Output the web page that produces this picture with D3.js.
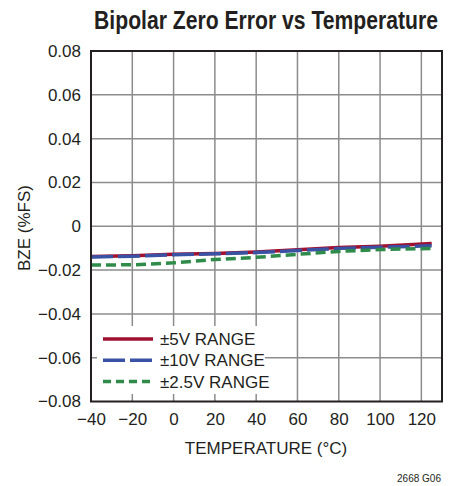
<!DOCTYPE html>
<html><head><meta charset="utf-8">
<script src="https://cdn.jsdelivr.net/npm/d3@7"></script>
<style>
body{margin:0;background:#fff;}
svg text{font-family:"Liberation Sans",Arial,sans-serif;fill:#231f20;}
</style></head>
<body>
<svg id="chart" width="456" height="486"></svg>
<script>
const temps = [-40, -20, 0, 20, 40, 60, 80, 100, 125];
const range5V = [-0.0138, -0.0135, -0.0128, -0.0124, -0.0117, -0.0107, -0.0097, -0.0091, -0.0079];
const range10V = [-0.0140, -0.0137, -0.0130, -0.0126, -0.0120, -0.0111, -0.0101, -0.0096, -0.0089];
const range2p5V = [-0.0177, -0.0176, -0.0167, -0.0152, -0.0142, -0.0128, -0.0115, -0.0106, -0.0102];
const seriesNames = ["\u00b15V RANGE", "\u00b110V RANGE", "\u00b12.5V RANGE"];
const xTicks = [-40, -20, 0, 20, 40, 60, 80, 100, 120];
const yTicks = [0.08, 0.06, 0.04, 0.02, 0, -0.02, -0.04, -0.06, -0.08];

const svg = d3.select("#chart");
const L = 91, R = 442, T = 51, B = 401.5;
const x = d3.scaleLinear().domain([-40, 130]).range([L, R]);
const y = d3.scaleLinear().domain([-0.08, 0.08]).range([B, T]);

const fmtY = v => v === 0 ? "0" : (v < 0 ? "\u2212" : "") + Math.abs(v).toFixed(2);
const fmtX = v => (v < 0 ? "\u2212" : "") + Math.abs(v);

// title (condensed by horizontal scaling)
const titleG = svg.append("g");
const title = titleG.append("text").attr("x", 0).attr("y", 0).attr("text-anchor", "middle")
  .style("font-size", "25px").style("font-weight", "bold")
  .text("Bipolar Zero Error vs Temperature");
const tw = title.node().getComputedTextLength();
const sx = Math.min(1, 344 / tw);
titleG.attr("transform", `translate(266,29) scale(${sx},1)`);

// grid
const g = svg.append("g");
g.selectAll(".vg").data(xTicks.slice(1)).enter().append("line")
  .attr("x1", d => x(d)).attr("x2", d => x(d)).attr("y1", T).attr("y2", B)
  .attr("stroke", "#8c8c8c").attr("stroke-width", 1.5);
g.selectAll(".hg").data(yTicks.slice(1, -1)).enter().append("line")
  .attr("y1", d => y(d)).attr("y2", d => y(d)).attr("x1", L).attr("x2", R)
  .attr("stroke", "#8c8c8c").attr("stroke-width", 1.5);

// axes labels via d3 axes (no lines)
const yAxis = svg.append("g").attr("transform", `translate(${L},0)`)
  .call(d3.axisLeft(y).tickValues(yTicks).tickFormat(fmtY).tickSize(0).tickPadding(10));
yAxis.select(".domain").remove();
yAxis.selectAll("text").style("font-size", "17px").style("font-family", "Liberation Sans, Arial, sans-serif").attr("fill", "#231f20");

const xAxis = svg.append("g").attr("transform", `translate(0,${B})`)
  .call(d3.axisBottom(x).tickValues(xTicks).tickFormat(fmtX).tickSize(0).tickPadding(11));
xAxis.select(".domain").remove();
xAxis.selectAll("text").style("font-size", "17px").style("font-family", "Liberation Sans, Arial, sans-serif").attr("fill", "#231f20");

// series
const line = d3.line().x((d, i) => x(temps[i])).y(d => y(d));
svg.append("path").datum(range5V).attr("d", line).attr("fill", "none")
  .attr("stroke", "#a0102f").attr("stroke-width", 3.5);
svg.append("path").datum(range10V).attr("d", line).attr("fill", "none")
  .attr("stroke", "#3a52a4").attr("stroke-width", 3.5).attr("stroke-dasharray", "22,5");
svg.append("path").datum(range2p5V).attr("d", line).attr("fill", "none")
  .attr("stroke", "#2e8b4a").attr("stroke-width", 3.5).attr("stroke-dasharray", "10,5");

// legend
svg.append("rect").attr("x", 97).attr("y", 326).attr("width", 168).attr("height", 68).attr("fill", "#fff");
const colors = ["#a0102f", "#3a52a4", "#2e8b4a"];
const dashes = [null, "22,5", "8,5"];
const lg = svg.append("g");
seriesNames.forEach((name, i) => {
  const yy = 339 + i * 21.3;
  lg.append("line").attr("x1", 103).attr("x2", 153).attr("y1", yy).attr("y2", yy)
    .attr("stroke", colors[i]).attr("stroke-width", 3.5).attr("stroke-dasharray", dashes[i]);
  lg.append("text").attr("x", 160).attr("y", yy + 6).style("font-size", "17px").text(name);
});

// border
svg.append("rect").attr("x", L).attr("y", T).attr("width", R - L).attr("height", B - T)
  .attr("fill", "none").attr("stroke", "#231f20").attr("stroke-width", 2);

// axis titles
svg.append("text").attr("x", 266).attr("y", 454).attr("text-anchor", "middle")
  .style("font-size", "17px").text("TEMPERATURE (\u00b0C)");
svg.append("text").attr("transform", "translate(30,228) rotate(-90)").attr("text-anchor", "middle")
  .style("font-size", "17px").text("BZE (%FS)");
svg.append("text").attr("x", 441).attr("y", 482).attr("text-anchor", "end")
  .style("font-size", "10px").text("2668 G06");
</script>
</body></html>
